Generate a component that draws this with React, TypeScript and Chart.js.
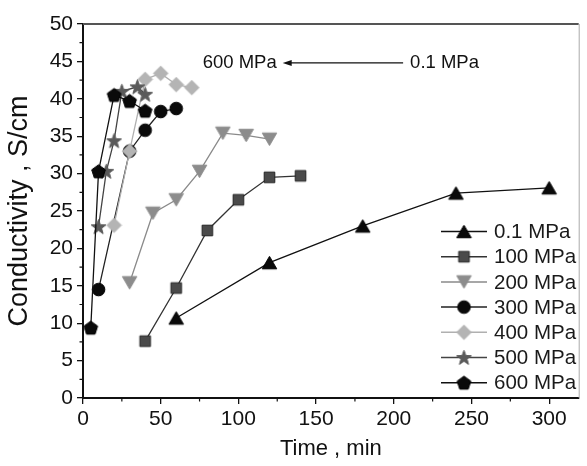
import React, { useEffect, useRef } from 'react';
import { Chart, registerables } from 'chart.js';

Chart.register(...registerables);

// ---------- data ----------
const seriesLabels = ['0.1 MPa', '100 MPa', '200 MPa', '300 MPa', '400 MPa', '500 MPa', '600 MPa'];
const t01 = [60, 120, 180, 240, 300];
const c01 = [10.7, 18.1, 23.0, 27.4, 28.1];
const t100 = [40, 60, 80, 100, 120, 140];
const c100 = [7.6, 14.7, 22.4, 26.5, 29.5, 29.7];
const t200 = [30, 45, 60, 75, 90, 105, 120];
const c200 = [15.4, 24.7, 26.5, 30.3, 35.4, 35.1, 34.6];
const t300 = [10, 30, 40, 50, 60];
const c300 = [14.5, 33.0, 35.8, 38.3, 38.7];
const t400 = [20, 30, 40, 50, 60, 70];
const c400 = [23.1, 33.0, 42.6, 43.4, 41.9, 41.5];
const t500 = [10, 15, 20, 25, 35, 40];
const c500 = [22.9, 30.3, 34.4, 41.0, 41.6, 40.6];
const t600 = [5, 10, 20, 30, 40];
const c600 = [9.4, 30.3, 40.5, 39.7, 38.4];

const xTicks = [0, 50, 100, 150, 200, 250, 300];
const yTicks = [0, 5, 10, 15, 20, 25, 30, 35, 40, 45, 50];
const xMinor = [25, 75, 125, 175, 225, 275];
const yMinor = [2.5, 7.5, 12.5, 17.5, 22.5, 27.5, 32.5, 37.5, 42.5, 47.5];

const annotationLeft = '600 MPa';
const annotationRight = '0.1 MPa';

const FONT = '"Liberation Sans", Arial, Helvetica, sans-serif';

// ---------- marker images ----------
function makeMarker(shape: string, fill: string, stroke: string): HTMLCanvasElement {
  const size = 17;
  const c = document.createElement('canvas');
  c.width = size;
  c.height = size;
  const ctx = c.getContext('2d')!;
  const cx = size / 2;
  const cy = size / 2;
  ctx.beginPath();
  if (shape === 'circle') {
    ctx.arc(cx, cy, 6.3, 0, Math.PI * 2);
  } else if (shape === 'square') {
    ctx.rect(cx - 5.3, cy - 5.3, 10.6, 10.6);
  } else if (shape === 'triangle' || shape === 'down') {
    const w = 14.5;
    const h = 12.5;
    if (shape === 'triangle') {
      ctx.moveTo(cx, cy - h / 2);
      ctx.lineTo(cx + w / 2, cy + h / 2);
      ctx.lineTo(cx - w / 2, cy + h / 2);
    } else {
      ctx.moveTo(cx, cy + h / 2);
      ctx.lineTo(cx + w / 2, cy - h / 2);
      ctx.lineTo(cx - w / 2, cy - h / 2);
    }
  } else if (shape === 'diamond') {
    ctx.moveTo(cx, cy - 7.3);
    ctx.lineTo(cx + 7.3, cy);
    ctx.lineTo(cx, cy + 7.3);
    ctx.lineTo(cx - 7.3, cy);
  } else if (shape === 'star') {
    for (let i = 0; i < 10; i++) {
      const r = i % 2 === 0 ? 7.8 : 3.2;
      const a = -Math.PI / 2 + (i * Math.PI) / 5;
      const px = cx + r * Math.cos(a);
      const py = cy + 0.6 + r * Math.sin(a);
      if (i === 0) ctx.moveTo(px, py);
      else ctx.lineTo(px, py);
    }
  } else if (shape === 'pentagon') {
    for (let i = 0; i < 5; i++) {
      const r = 7.2;
      const a = -Math.PI / 2 + (i * 2 * Math.PI) / 5;
      const px = cx + r * Math.cos(a);
      const py = cy + 0.6 + r * Math.sin(a);
      if (i === 0) ctx.moveTo(px, py);
      else ctx.lineTo(px, py);
    }
  }
  ctx.closePath();
  ctx.fillStyle = fill;
  ctx.fill();
  ctx.lineWidth = 1;
  ctx.strokeStyle = stroke;
  ctx.stroke();
  return c;
}

const seriesTimes = [t01, t100, t200, t300, t400, t500, t600];
const seriesValues = [c01, c100, c200, c300, c400, c500, c600];
const seriesShapes = ['triangle', 'square', 'down', 'circle', 'diamond', 'star', 'pentagon'];
const seriesFill = ['#0a0a0a', '#4a4a4a', '#8c8c8c', '#0a0a0a', '#b4b4b4', '#5a5a5a', '#0a0a0a'];
const seriesStroke = ['#000000', '#222222', '#8c8c8c', '#000000', '#b4b4b4', '#5a5a5a', '#000000'];
const seriesLine = ['#111111', '#333333', '#8a8a8a', '#222222', '#b0b0b0', '#444444', '#111111'];

export default function App() {
  const ref = useRef<HTMLCanvasElement | null>(null);

  useEffect(() => {
    const canvas = ref.current;
    if (!canvas) return;
    const markers = seriesShapes.map((s, i) => makeMarker(s, seriesFill[i], seriesStroke[i]));

    const datasets = seriesLabels.map((label, i) => ({
      label,
      data: seriesTimes[i].map((t, k) => ({ x: t, y: seriesValues[i][k] })),
      showLine: true,
      borderColor: seriesLine[i],
      borderWidth: 1.3,
      pointStyle: markers[i],
      pointRadius: 7,
      backgroundColor: seriesFill[i],
      order: 10 - i,
    }));

    const decor = {
      id: 'decor',
      afterDraw(chart: any) {
        const ctx = chart.ctx;
        const ca = chart.chartArea;
        const xs = chart.scales.x;
        const ys = chart.scales.y;
        ctx.save();
        // frame top / right
        ctx.strokeStyle = '#555';
        ctx.lineWidth = 2;
        ctx.beginPath();
        ctx.moveTo(ca.left, ca.top);
        ctx.lineTo(ca.right, ca.top);
        ctx.stroke();
        ctx.strokeStyle = '#aaa';
        ctx.lineWidth = 1;
        ctx.beginPath();
        ctx.moveTo(ca.right + 0.5, ca.top);
        ctx.lineTo(ca.right + 0.5, ca.bottom);
        ctx.stroke();
        // minor ticks
        ctx.strokeStyle = '#111';
        ctx.lineWidth = 1.2;
        ctx.beginPath();
        xMinor.forEach((v) => {
          const px = xs.getPixelForValue(v);
          ctx.moveTo(px, ca.bottom);
          ctx.lineTo(px, ca.bottom + 3.5);
        });
        yMinor.forEach((v) => {
          const py = ys.getPixelForValue(v);
          ctx.moveTo(ca.left, py);
          ctx.lineTo(ca.left - 3.5, py);
        });
        ctx.stroke();

        // annotation
        ctx.fillStyle = '#111';
        ctx.font = `18.5px ${FONT}`;
        ctx.textBaseline = 'middle';
        ctx.textAlign = 'left';
        const ay = ys.getPixelForValue(44.8);
        ctx.fillText(annotationLeft, xs.getPixelForValue(77), ay);
        ctx.fillText(annotationRight, xs.getPixelForValue(210.5), ay);
        const ax0 = xs.getPixelForValue(206);
        const ax1 = xs.getPixelForValue(128.5);
        ctx.strokeStyle = '#111';
        ctx.lineWidth = 1.2;
        ctx.beginPath();
        ctx.moveTo(ax0, ay);
        ctx.lineTo(ax1 + 4, ay);
        ctx.stroke();
        ctx.beginPath();
        ctx.moveTo(ax1, ay);
        ctx.lineTo(ax1 + 9, ay - 3);
        ctx.lineTo(ax1 + 9, ay + 3);
        ctx.closePath();
        ctx.fillStyle = '#111';
        ctx.fill();

        // legend
        ctx.font = `20.5px ${FONT}`;
        chart.data.datasets.forEach((ds: any, i: number) => {
          const ly = 231.5 + i * 25.2;
          ctx.strokeStyle = ds.borderColor;
          ctx.lineWidth = 1.5;
          ctx.beginPath();
          ctx.moveTo(441, ly);
          ctx.lineTo(487, ly);
          ctx.stroke();
          const m = markers[i];
          ctx.drawImage(m, 464 - m.width / 2, ly - m.height / 2);
          ctx.fillStyle = '#1a1a1a';
          ctx.fillText(ds.label, 494, ly + 1);
        });
        ctx.restore();
      },
    };

    const chart = new Chart(canvas, {
      type: 'scatter',
      data: { datasets: datasets as any },
      plugins: [decor],
      options: {
        animation: false,
        responsive: false,
        devicePixelRatio: 1,
        layout: { padding: { top: 24, right: 5, left: 0, bottom: 0 } },
        plugins: { legend: { display: false }, tooltip: { enabled: false } },
        scales: {
          x: {
            type: 'linear',
            min: 0,
            max: 319,
            afterBuildTicks: (s: any) => {
              s.ticks = xTicks.map((v) => ({ value: v }));
            },
            afterFit: (s: any) => {
              s.height = 68;
            },
            grid: { drawOnChartArea: false, drawTicks: true, tickLength: 6, color: '#111', lineWidth: 1.3 },
            border: { display: true, color: '#111', width: 2 },
            ticks: { color: '#111', font: { family: FONT, size: 21 }, padding: 3, maxRotation: 0, autoSkip: false },
            title: { display: true, text: 'Time , min', color: '#111', font: { family: FONT, size: 22 }, padding: { top: 0, bottom: 4 } },
          },
          y: {
            type: 'linear',
            min: 0,
            max: 50,
            afterBuildTicks: (s: any) => {
              s.ticks = yTicks.map((v) => ({ value: v }));
            },
            afterFit: (s: any) => {
              s.width = 83;
            },
            grid: { drawOnChartArea: false, drawTicks: true, tickLength: 6, color: '#111', lineWidth: 1.3 },
            border: { display: true, color: '#111', width: 2 },
            ticks: { color: '#111', font: { family: FONT, size: 21 }, padding: 4, autoSkip: false },
            title: { display: true, text: 'Conductivity , S/cm', color: '#111', font: { family: FONT, size: 27 }, padding: { top: 3, bottom: 0 } },
          },
        },
      },
    });
    return () => chart.destroy();
  }, []);

  return (
    <div style={{ position: 'fixed', left: 0, top: 0, width: 587, height: 466, background: '#fff' }}>
      <canvas ref={ref} width={587} height={466} style={{ display: 'block' }} />
    </div>
  );
}
